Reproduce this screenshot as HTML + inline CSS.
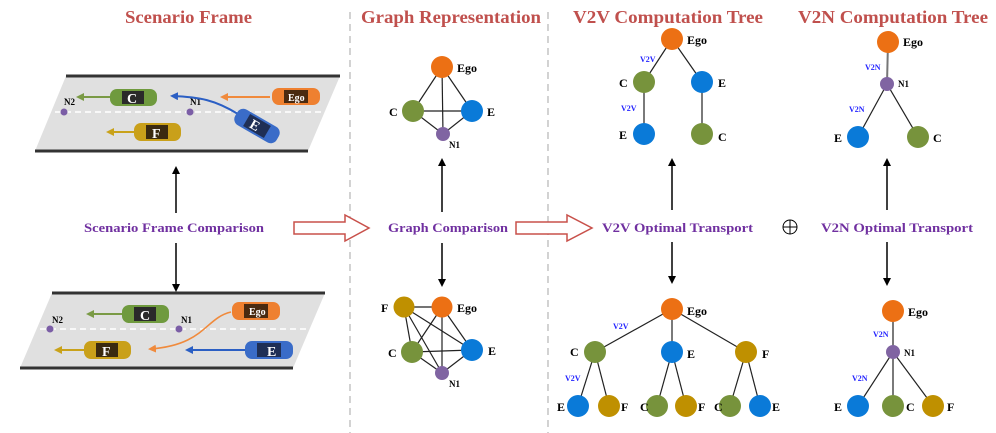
<!DOCTYPE html>
<html><head><meta charset="utf-8"><style>
html,body{margin:0;padding:0;background:#fff;width:996px;height:433px;overflow:hidden}
svg text{font-family:"Liberation Serif",serif;font-weight:bold}
</style></head><body>
<svg width="996" height="433" viewBox="0 0 996 433" xmlns="http://www.w3.org/2000/svg">
<defs>
<marker id="ab" markerWidth="8" markerHeight="8" refX="6" refY="4" orient="auto" markerUnits="userSpaceOnUse"><path d="M0,0 L8,4 L0,8 z" fill="#000"/></marker>
<marker id="mo" markerWidth="8" markerHeight="8" refX="6" refY="4" orient="auto" markerUnits="userSpaceOnUse"><path d="M0,0 L8,4 L0,8 z" fill="#f08a3c"/></marker>
<marker id="mb" markerWidth="8" markerHeight="8" refX="6" refY="4" orient="auto" markerUnits="userSpaceOnUse"><path d="M0,0 L8,4 L0,8 z" fill="#2b5fc4"/></marker>
<marker id="mg" markerWidth="8" markerHeight="8" refX="6" refY="4" orient="auto" markerUnits="userSpaceOnUse"><path d="M0,0 L8,4 L0,8 z" fill="#7a9a45"/></marker>
<marker id="my" markerWidth="8" markerHeight="8" refX="6" refY="4" orient="auto" markerUnits="userSpaceOnUse"><path d="M0,0 L8,4 L0,8 z" fill="#c9a21a"/></marker>
</defs>

<!-- titles -->
<g fill="#c0504d" font-size="18">
<text x="125" y="23" textLength="127" lengthAdjust="spacingAndGlyphs">Scenario Frame</text>
<text x="361" y="23" textLength="180" lengthAdjust="spacingAndGlyphs">Graph Representation</text>
<text x="573" y="23" textLength="190" lengthAdjust="spacingAndGlyphs">V2V Computation Tree</text>
<text x="798" y="23" textLength="190" lengthAdjust="spacingAndGlyphs">V2N Computation Tree</text>
</g>
<!-- dividers -->
<line x1="350" y1="12" x2="350" y2="433" stroke="#bbb" stroke-width="1.3" stroke-dasharray="7,5"/>
<line x1="548" y1="12" x2="548" y2="433" stroke="#bbb" stroke-width="1.3" stroke-dasharray="7,5"/>

<!-- top road -->
<polygon points="66,76 340,76 308,151 35,151" fill="#e0e0e0"/>
<line x1="66" y1="76" x2="340" y2="76" stroke="#333" stroke-width="3"/>
<line x1="35" y1="151" x2="308" y2="151" stroke="#333" stroke-width="3"/>
<line x1="55" y1="112" x2="325" y2="112" stroke="#fff" stroke-width="1.5" stroke-dasharray="6,4"/>
<circle cx="64" cy="112" r="3.5" fill="#7b5ea6"/><text x="64" y="105" font-size="9" font-weight="normal">N2</text>
<circle cx="190" cy="112" r="3.5" fill="#7b5ea6"/><text x="190" y="105" font-size="9" font-weight="normal">N1</text>
<line x1="110" y1="97" x2="78" y2="97" stroke="#7a9a45" stroke-width="2" marker-end="url(#mg)"/>
<rect x="110" y="89" width="47" height="17" rx="7" fill="#6f9a3e"/><rect x="122" y="91" width="22" height="13" fill="#2a2a2a"/><text x="127" y="103" font-size="14" fill="#fff">C</text>
<line x1="270" y1="97" x2="222" y2="97" stroke="#f08a3c" stroke-width="2" marker-end="url(#mo)"/>
<rect x="272" y="88" width="48" height="17" rx="7" fill="#ee8030"/><rect x="284" y="90" width="24" height="13" fill="#4a2a10"/><text x="288" y="101" font-size="10" fill="#fff">Ego</text>
<path d="M238,114 C215,100 200,97 172,96" fill="none" stroke="#2b5fc4" stroke-width="2" marker-end="url(#mb)"/>
<g transform="rotate(30 257 126)"><rect x="233" y="117" width="48" height="18" rx="7" fill="#3a6cc8"/><rect x="245" y="119" width="24" height="14" fill="#1f2f55"/><text x="250" y="131" font-size="14" fill="#fff">E</text></g>
<line x1="134" y1="132" x2="108" y2="132" stroke="#c9a21a" stroke-width="2" marker-end="url(#my)"/>
<rect x="134" y="123" width="47" height="18" rx="7" fill="#c9a01a"/><rect x="146" y="125" width="22" height="14" fill="#3a2a10"/><text x="152" y="138" font-size="14" fill="#fff">F</text>

<!-- bottom road -->
<polygon points="52,293 325,293 293,368 20,368" fill="#e0e0e0"/>
<line x1="52" y1="293" x2="325" y2="293" stroke="#333" stroke-width="3"/>
<line x1="20" y1="368" x2="293" y2="368" stroke="#333" stroke-width="3"/>
<line x1="40" y1="329" x2="310" y2="329" stroke="#fff" stroke-width="1.5" stroke-dasharray="6,4"/>
<circle cx="50" cy="329" r="3.5" fill="#7b5ea6"/><text x="52" y="323" font-size="9" font-weight="normal">N2</text>
<circle cx="179" cy="329" r="3.5" fill="#7b5ea6"/><text x="181" y="323" font-size="9" font-weight="normal">N1</text>
<line x1="122" y1="314" x2="88" y2="314" stroke="#7a9a45" stroke-width="2" marker-end="url(#mg)"/>
<rect x="122" y="305" width="47" height="18" rx="7" fill="#6f9a3e"/><rect x="134" y="307" width="22" height="14" fill="#2a2a2a"/><text x="140" y="320" font-size="14" fill="#fff">C</text>
<rect x="232" y="302" width="48" height="18" rx="7" fill="#ee8030"/><rect x="244" y="304" width="24" height="14" fill="#4a2a10"/><text x="249" y="315" font-size="10" fill="#fff">Ego</text>
<path d="M231,312 C205,318 205,345 150,349" fill="none" stroke="#f08a3c" stroke-width="1.6" marker-end="url(#mo)"/>
<line x1="245" y1="350" x2="187" y2="350" stroke="#2b5fc4" stroke-width="2" marker-end="url(#mb)"/>
<rect x="245" y="341" width="48" height="18" rx="7" fill="#3a6cc8"/><rect x="257" y="343" width="24" height="14" fill="#1f2f55"/><text x="267" y="356" font-size="14" fill="#fff">E</text>
<line x1="84" y1="350" x2="56" y2="350" stroke="#c9a21a" stroke-width="2" marker-end="url(#my)"/>
<rect x="84" y="341" width="47" height="18" rx="7" fill="#c9a01a"/><rect x="96" y="343" width="22" height="14" fill="#3a2a10"/><text x="102" y="356" font-size="14" fill="#fff">F</text>

<!-- vertical arrows -->
<g stroke="#000" stroke-width="1.5">
<line x1="176" y1="213" x2="176" y2="168" marker-end="url(#ab)"/>
<line x1="176" y1="243" x2="176" y2="290" marker-end="url(#ab)"/>
<line x1="442" y1="212" x2="442" y2="160" marker-end="url(#ab)"/>
<line x1="442" y1="243" x2="442" y2="285" marker-end="url(#ab)"/>
<line x1="672" y1="210" x2="672" y2="160" marker-end="url(#ab)"/>
<line x1="672" y1="242" x2="672" y2="282" marker-end="url(#ab)"/>
<line x1="887" y1="210" x2="887" y2="160" marker-end="url(#ab)"/>
<line x1="887" y1="242" x2="887" y2="284" marker-end="url(#ab)"/>
</g>
<!-- middle labels -->
<g fill="#7030a0" font-size="13">
<text x="84" y="232" textLength="180" lengthAdjust="spacingAndGlyphs">Scenario Frame Comparison</text>
<text x="388" y="232" textLength="120" lengthAdjust="spacingAndGlyphs">Graph Comparison</text>
<text x="602" y="232" textLength="151" lengthAdjust="spacingAndGlyphs">V2V Optimal Transport</text>
<text x="821" y="232" textLength="152" lengthAdjust="spacingAndGlyphs">V2N Optimal Transport</text>
</g>
<circle cx="790" cy="227" r="7" fill="none" stroke="#000" stroke-width="1"/>
<line x1="783" y1="227" x2="797" y2="227" stroke="#000"/><line x1="790" y1="220" x2="790" y2="234" stroke="#000"/>
<!-- hollow arrows -->
<polygon points="294,222 345,222 345,215 369,228 345,241 345,234 294,234" fill="#fff" stroke="#c8504a" stroke-width="1.5"/>
<polygon points="516,222 567,222 567,215 592,228 567,241 567,234 516,234" fill="#fff" stroke="#c8504a" stroke-width="1.5"/>

<!-- node label style -->
<g font-size="12" fill="#000">
<!-- top graph -->
<g stroke="#222" stroke-width="1.2">
<line x1="442" y1="67" x2="413" y2="111"/><line x1="442" y1="67" x2="472" y2="111"/><line x1="442" y1="67" x2="443" y2="134"/>
<line x1="413" y1="111" x2="472" y2="111"/><line x1="413" y1="111" x2="443" y2="134"/><line x1="472" y1="111" x2="443" y2="134"/>
</g>
<circle cx="442" cy="67" r="11" fill="#ec7014"/><circle cx="413" cy="111" r="11" fill="#77933c"/><circle cx="472" cy="111" r="11" fill="#0a7ad8"/><circle cx="443" cy="134" r="7" fill="#8064a2"/>
<text x="457" y="72">Ego</text><text x="389" y="116">C</text><text x="487" y="116">E</text><text x="449" y="148" font-size="9">N1</text>

<!-- bottom graph -->
<g stroke="#222" stroke-width="1.2">
<line x1="404" y1="307" x2="442" y2="307"/><line x1="404" y1="307" x2="412" y2="352"/><line x1="404" y1="307" x2="472" y2="350"/><line x1="404" y1="307" x2="442" y2="373"/>
<line x1="442" y1="307" x2="412" y2="352"/><line x1="442" y1="307" x2="472" y2="350"/><line x1="442" y1="307" x2="442" y2="373"/>
<line x1="412" y1="352" x2="472" y2="350"/><line x1="412" y1="352" x2="442" y2="373"/><line x1="472" y1="350" x2="442" y2="373"/>
</g>
<circle cx="404" cy="307" r="10.5" fill="#bf9000"/><circle cx="442" cy="307" r="10.5" fill="#ec7014"/><circle cx="412" cy="352" r="11" fill="#77933c"/><circle cx="472" cy="350" r="11" fill="#0a7ad8"/><circle cx="442" cy="373" r="7" fill="#8064a2"/>
<text x="381" y="312">F</text><text x="457" y="312">Ego</text><text x="388" y="357">C</text><text x="488" y="355">E</text><text x="449" y="387" font-size="9">N1</text>

<!-- V2V top -->
<g stroke="#222" stroke-width="1.2">
<line x1="672" y1="39" x2="644" y2="82"/><line x1="672" y1="39" x2="702" y2="82"/><line x1="644" y1="82" x2="644" y2="134"/><line x1="702" y1="82" x2="702" y2="134"/>
</g>
<circle cx="672" cy="39" r="11" fill="#ec7014"/><circle cx="644" cy="82" r="11" fill="#77933c"/><circle cx="702" cy="82" r="11" fill="#0a7ad8"/><circle cx="644" cy="134" r="11" fill="#0a7ad8"/><circle cx="702" cy="134" r="11" fill="#77933c"/>
<text x="687" y="44">Ego</text><text x="619" y="87">C</text><text x="718" y="87">E</text><text x="619" y="139">E</text><text x="718" y="141">C</text>
<text x="640" y="62" font-size="8" fill="#2222ff" font-family="Liberation Sans,sans-serif">V2V</text>
<text x="621" y="111" font-size="8" fill="#2222ff" font-family="Liberation Sans,sans-serif">V2V</text>

<!-- V2V bottom -->
<g stroke="#222" stroke-width="1.2">
<line x1="672" y1="309" x2="595" y2="352"/><line x1="672" y1="309" x2="672" y2="352"/><line x1="672" y1="309" x2="746" y2="352"/>
<line x1="595" y1="352" x2="578" y2="406"/><line x1="595" y1="352" x2="609" y2="406"/>
<line x1="672" y1="352" x2="657" y2="406"/><line x1="672" y1="352" x2="686" y2="406"/>
<line x1="746" y1="352" x2="730" y2="406"/><line x1="746" y1="352" x2="760" y2="406"/>
</g>
<circle cx="672" cy="309" r="11" fill="#ec7014"/><circle cx="595" cy="352" r="11" fill="#77933c"/><circle cx="672" cy="352" r="11" fill="#0a7ad8"/><circle cx="746" cy="352" r="11" fill="#bf9000"/>
<circle cx="578" cy="406" r="11" fill="#0a7ad8"/><circle cx="609" cy="406" r="11" fill="#bf9000"/><circle cx="657" cy="406" r="11" fill="#77933c"/><circle cx="686" cy="406" r="11" fill="#bf9000"/><circle cx="730" cy="406" r="11" fill="#77933c"/><circle cx="760" cy="406" r="11" fill="#0a7ad8"/>
<text x="687" y="315">Ego</text><text x="570" y="356">C</text><text x="687" y="358">E</text><text x="762" y="358">F</text>
<text x="557" y="411">E</text><text x="621" y="411">F</text><text x="640" y="411">C</text><text x="698" y="411">F</text><text x="714" y="411">C</text><text x="772" y="411">E</text>
<text x="613" y="329" font-size="8" fill="#2222ff" font-family="Liberation Sans,sans-serif">V2V</text>
<text x="565" y="381" font-size="8" fill="#2222ff" font-family="Liberation Sans,sans-serif">V2V</text>

<!-- V2N top -->
<g stroke="#222" stroke-width="1.2">
<line x1="888" y1="42" x2="887" y2="84" stroke="#777" stroke-width="2"/><line x1="887" y1="84" x2="858" y2="137"/><line x1="887" y1="84" x2="918" y2="137"/>
</g>
<circle cx="888" cy="42" r="11" fill="#ec7014"/><circle cx="887" cy="84" r="7" fill="#8064a2"/><circle cx="858" cy="137" r="11" fill="#0a7ad8"/><circle cx="918" cy="137" r="11" fill="#77933c"/>
<text x="903" y="46">Ego</text><text x="898" y="87" font-size="9">N1</text><text x="834" y="142">E</text><text x="933" y="142">C</text>
<text x="865" y="70" font-size="8" fill="#2222ff" font-family="Liberation Sans,sans-serif">V2N</text>
<text x="849" y="112" font-size="8" fill="#2222ff" font-family="Liberation Sans,sans-serif">V2N</text>

<!-- V2N bottom -->
<g stroke="#222" stroke-width="1.2">
<line x1="893" y1="311" x2="893" y2="352"/><line x1="893" y1="352" x2="858" y2="406"/><line x1="893" y1="352" x2="893" y2="406"/><line x1="893" y1="352" x2="933" y2="406"/>
</g>
<circle cx="893" cy="311" r="11" fill="#ec7014"/><circle cx="893" cy="352" r="7" fill="#8064a2"/><circle cx="858" cy="406" r="11" fill="#0a7ad8"/><circle cx="893" cy="406" r="11" fill="#77933c"/><circle cx="933" cy="406" r="11" fill="#bf9000"/>
<text x="908" y="316">Ego</text><text x="904" y="356" font-size="9">N1</text><text x="834" y="411">E</text><text x="906" y="411">C</text><text x="947" y="411">F</text>
<text x="873" y="337" font-size="8" fill="#2222ff" font-family="Liberation Sans,sans-serif">V2N</text>
<text x="852" y="381" font-size="8" fill="#2222ff" font-family="Liberation Sans,sans-serif">V2N</text>
</g>
</svg>
</body></html>
